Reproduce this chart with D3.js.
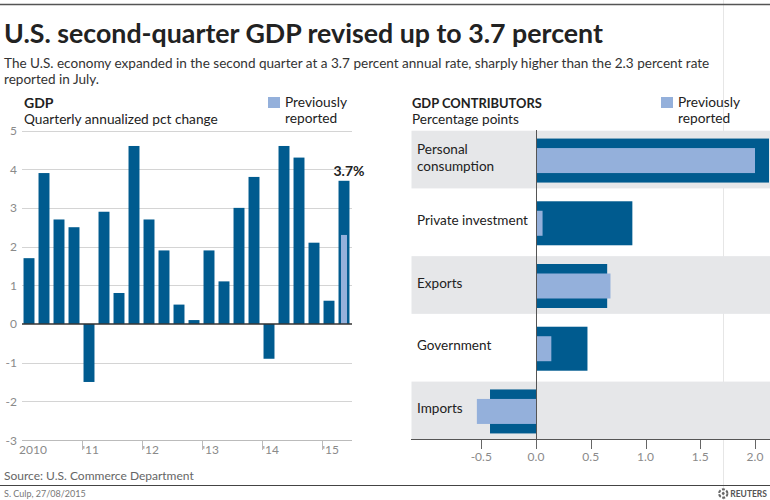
<!DOCTYPE html>
<html><head><meta charset="utf-8">
<script src="https://cdn.jsdelivr.net/npm/d3@7"></script>
<style>
html,body{margin:0;padding:0;background:#fff;}
svg{display:block;font-family:Lato,"Open Sans",sans-serif;}
</style></head>
<body>
<svg id="c" width="770" height="500"></svg>
<script>
// ---------- data ----------
const quarters = ["2010Q1","2010Q2","2010Q3","2010Q4","2011Q1","2011Q2","2011Q3","2011Q4",
  "2012Q1","2012Q2","2012Q3","2012Q4","2013Q1","2013Q2","2013Q3","2013Q4",
  "2014Q1","2014Q2","2014Q3","2014Q4","2015Q1","2015Q2"];
const gdpValues = [1.7,3.9,2.7,2.5,-1.5,2.9,0.8,4.6,2.7,1.9,0.5,0.1,1.9,1.1,3.0,3.8,-0.9,4.6,4.3,2.1,0.6,3.7];
const prevQuarter = "2015Q2";
const prevValue = 2.3;
const yearStarts = ["2010Q1","2011Q1","2012Q1","2013Q1","2014Q1","2015Q1"];
const yearLabels = ["2010","'11","'12","'13","'14","'15"];
const gdpTicks = [-3,-2,-1,0,1,2,3,4,5];
const gdpTickLabels = ["-3","-2","-1","0","1","2","3","4","5"];

const contributors = ["Personal consumption","Private investment","Exports","Government","Imports"];
const contributorLines = [["Personal","consumption"],["Private investment"],["Exports"],["Government"],["Imports"]];
const revisedValues = [2.14,0.88,0.65,0.47,-0.42];
const previousValues = [2.0,0.06,0.68,0.14,-0.54];
const contribTicks = [-0.5,0,0.5,1,1.5,2];
const contribTickLabels = ["-0.5","0.0","0.5","1.0","1.5","2.0"];

// ---------- style ----------
const DARK = "#005b8f", LIGHT = "#94b0db", BAND = "#e6e7e9", GRID = "#d4d4d4", TXT = "#222", GREY = "#8a8a8a";

const svg = d3.select("#c");
function fit(sel, w){ const n = sel.node(); const fs = parseFloat(sel.attr("font-size")); const m = n.getComputedTextLength(); sel.attr("font-size", (fs*w/m).toFixed(2)); return sel; }

// background artifact lines
svg.append("line").attr("x1",723.5).attr("x2",723.5).attr("y1",0).attr("y2",500).attr("stroke","#e6e6e6");
svg.append("line").attr("x1",0).attr("x2",770).attr("y1",4.5).attr("y2",4.5).attr("stroke","#555").attr("stroke-width",1.5);

// title
fit(svg.append("text").attr("x",4).attr("y",43).attr("font-size",29).attr("font-weight",700).attr("fill",TXT)
  .text("U.S. second-quarter GDP revised up to 3.7 percent"), 599);
const sub1 = svg.append("text").attr("x",4).attr("y",67.5).attr("font-size",15).attr("fill","#333")
  .text("The U.S. economy expanded in the second quarter at a 3.7 percent annual rate, sharply higher than the 2.3 percent rate");
fit(sub1, 706);
svg.append("text").attr("x",4).attr("y",83.5).attr("font-size",sub1.attr("font-size")).attr("fill","#333").text("reported in July.");

// ---------- left chart ----------
const y = d3.scaleLinear().domain([-3,5]).range([440,130.5]);
const x = d3.scaleBand().domain(quarters).range([21.5,351.5]).paddingInner(0.27).paddingOuter(0.135);
const step = x.step();
const boundary = q => x(q) - x.paddingInner()*step/2;

const L = svg.append("g");
L.append("text").attr("x",24).attr("y",107.5).attr("font-size",14).attr("font-weight",700).attr("fill",TXT).text("GDP");
const qa = L.append("text").attr("x",24).attr("y",124).attr("font-size",15).attr("fill",TXT).text("Quarterly annualized pct change");
fit(qa,194);
L.append("rect").attr("x",268).attr("y",97).attr("width",12).attr("height",11).attr("fill",LIGHT);
const pv1 = L.append("text").attr("x",285).attr("y",107).attr("font-size",15).attr("fill",TXT).text("Previously");
fit(pv1,62);
L.append("text").attr("x",285).attr("y",123).attr("font-size",pv1.attr("font-size")).attr("fill",TXT).text("reported");

// gridlines
L.selectAll("line.grid").data(gdpTicks.filter(t=>t!==0)).join("line")
  .attr("x1",22).attr("x2",352).attr("y1",d=>Math.round(y(d))+0.5).attr("y2",d=>Math.round(y(d))+0.5)
  .attr("stroke",d=>d===-3?"#bbb":GRID);
L.selectAll("text.ytl").data(gdpTicks).join("text")
  .attr("x",17).attr("y",d=>y(d)+4.5).attr("text-anchor","end").attr("font-size",12).attr("fill",GREY)
  .text((d,i)=>gdpTickLabels[i]);

// bars
L.selectAll("rect.bar").data(quarters).join("rect")
  .attr("x",d=>x(d)).attr("width",x.bandwidth())
  .attr("y",(d,i)=>y(Math.max(0,gdpValues[i]))).attr("height",(d,i)=>Math.abs(y(gdpValues[i])-y(0)))
  .attr("fill",DARK);
const pw = x.bandwidth()*0.55;
L.append("rect").attr("x",x(prevQuarter)+(x.bandwidth()-pw)/2).attr("width",pw)
  .attr("y",y(prevValue)).attr("height",y(0)-y(prevValue)).attr("fill",LIGHT);
L.append("line").attr("x1",22).attr("x2",352).attr("y1",y(0)).attr("y2",y(0)).attr("stroke","#333").attr("stroke-width",1.5);
const lastI = quarters.indexOf(prevQuarter);
L.append("text").attr("x",x(prevQuarter)+x.bandwidth()/2+5).attr("y",y(gdpValues[lastI])-4.5)
  .attr("text-anchor","middle").attr("font-size",14).attr("font-weight",700).attr("fill",TXT).text("3.7%");

// year ticks
yearStarts.forEach((q,i)=>{
  const bx = boundary(q);
  if(i>0) L.append("line").attr("x1",Math.round(bx)+0.5).attr("x2",Math.round(bx)+0.5).attr("y1",440).attr("y2",450).attr("stroke","#bbb");
  L.append("text").attr("x",i===0?bx-2.5:bx+1).attr("y",454).attr("font-size",12).attr("fill",GREY).text(yearLabels[i]);
});

// ---------- right chart ----------
const xr = d3.scaleLinear().domain([-0.5,2]).range([481.25,755]);
const yr = d3.scaleBand().domain(contributors).range([128.2,441.8]).paddingInner(0.08).paddingOuter(0.04);
const R = svg.append("g");
R.append("text").attr("x",412).attr("y",108).attr("font-size",14).attr("font-weight",700).attr("fill",TXT).call(s=>s.text("GDP CONTRIBUTORS")).call(s=>fit(s,130));
const pp = R.append("text").attr("x",412).attr("y",124).attr("font-size",15).attr("fill",TXT).text("Percentage points");
fit(pp,107);
R.append("rect").attr("x",661).attr("y",97).attr("width",12).attr("height",11).attr("fill",LIGHT);
R.append("text").attr("x",678).attr("y",107).attr("font-size",pv1.attr("font-size")).attr("fill",TXT).text("Previously");
R.append("text").attr("x",678).attr("y",123).attr("font-size",pv1.attr("font-size")).attr("fill",TXT).text("reported");

R.selectAll("rect.band").data(contributors.filter((d,i)=>i%2===0)).join("rect")
  .attr("x",411.5).attr("width",770-411.5).attr("y",d=>yr(d)).attr("height",yr.bandwidth()).attr("fill",BAND);

R.append("clipPath").attr("id","clipR").append("rect").attr("x",400).attr("y",120).attr("width",369).attr("height",330);
const bars = R.append("g").attr("clip-path","url(#clipR)");
const cy = d => yr(d)+yr.bandwidth()/2+1;
bars.selectAll("rect.rev").data(contributors).join("rect")
  .attr("x",(d,i)=>xr(Math.min(0,revisedValues[i]))).attr("width",(d,i)=>Math.abs(xr(revisedValues[i])-xr(0)))
  .attr("y",d=>cy(d)-22).attr("height",44).attr("fill",DARK);
bars.selectAll("rect.prev").data(contributors).join("rect")
  .attr("x",(d,i)=>xr(Math.min(0,previousValues[i]))).attr("width",(d,i)=>Math.abs(xr(previousValues[i])-xr(0)))
  .attr("y",d=>cy(d)-12.5).attr("height",25).attr("fill",LIGHT);

const rowFs = 15;
const rl = R.selectAll("text.rl").data(contributors).join("text")
  .attr("x",417).attr("font-size",rowFs).attr("fill",TXT);
rl.each(function(d,i){
  const lines = contributorLines[i];
  const t = d3.select(this);
  const c = yr(d)+yr.bandwidth()/2;
  lines.forEach((ln,j)=>{
    t.append("tspan").attr("x",417).attr("y",c+2.5 + (j-(lines.length-1)/2)*17).text(ln);
  });
});
const piNode = rl.filter((d,i)=>i===1).node();
const piW = piNode.getComputedTextLength();
rl.attr("font-size",(rowFs*111/piW).toFixed(2));

R.append("line").attr("x1",Math.round(xr(0))+0.5).attr("x2",Math.round(xr(0))+0.5).attr("y1",130).attr("y2",449).attr("stroke","#555");
R.append("line").attr("x1",411).attr("x2",770).attr("y1",439.5).attr("y2",439.5).attr("stroke","#555");
R.selectAll("line.xt").data(contribTicks).join("line")
  .attr("x1",d=>Math.round(xr(d))+0.5).attr("x2",d=>Math.round(xr(d))+0.5).attr("y1",440).attr("y2",449).attr("stroke","#666");
R.selectAll("text.xtl").data(contribTicks).join("text")
  .attr("x",d=>xr(d)).attr("y",461).attr("text-anchor","middle").attr("font-size",12).attr("fill",GREY)
  .text((d,i)=>contribTickLabels[i]);

// ---------- footer ----------
svg.append("text").attr("x",4).attr("y",480).attr("font-size",12).attr("fill","#666").text("Source: U.S. Commerce Department");
svg.append("line").attr("x1",0).attr("x2",770).attr("y1",485.5).attr("y2",485.5).attr("stroke","#444").attr("stroke-width",1.2);
svg.append("text").attr("x",4).attr("y",497).attr("font-size",9).attr("fill","#777").text("S. Culp, 27/08/2015");
const rt = svg.append("text").attr("x",767).attr("y",497).attr("text-anchor","end").attr("font-size",8.5).attr("font-weight",700).attr("fill","#555").text("REUTERS");
const rtW = rt.node().getComputedTextLength();
const logo = svg.append("g").attr("transform",`translate(${767-rtW-7},493.5)`);
logo.append("circle").attr("r",4.2).attr("fill","none").attr("stroke","#666").attr("stroke-width",2).attr("stroke-dasharray","3 1.5");
logo.append("circle").attr("r",1.4).attr("fill","#666");
</script>
</body></html>
